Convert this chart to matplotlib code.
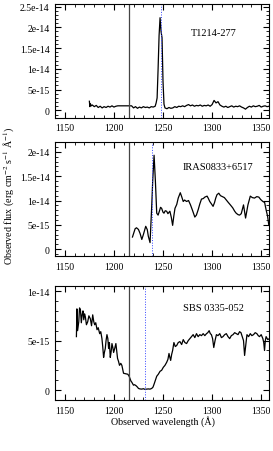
import numpy as np
import matplotlib
matplotlib.use("Agg")
import matplotlib.pyplot as plt
from matplotlib.ticker import MultipleLocator, FuncFormatter

plt.rcParams.update({
    "font.family": ["Liberation Serif", "DejaVu Serif"],
    "font.size": 7,
    "mathtext.fontset": "stix",
})

# Lyman alpha rest wavelength and redshifted positions (Angstrom)
lya_rest = 1215.67
lya_obs = [1248.0, 1239.2, 1231.8]
names = ["T1214-277", "IRAS0833+6517", "SBS 0335-052"]

# spectra, flux in units of 1e-15 erg cm-2 s-1 A-1
wl_t1214 = [1175, 1175.5, 1176, 1177, 1178, 1180, 1182, 1184, 1186, 1188, 1190, 1192,
            1194, 1196, 1198, 1200, 1202, 1204, 1206, 1208, 1210, 1212, 1214, 1216,
            1218, 1220, 1222, 1224, 1226, 1228, 1230, 1232, 1234, 1236, 1238, 1240,
            1242, 1243, 1244, 1245, 1246, 1247, 1248, 1249, 1250, 1251, 1252, 1254,
            1256, 1258, 1260, 1262, 1264, 1266, 1268, 1270, 1272, 1274, 1276, 1278,
            1280, 1282, 1284, 1286, 1288, 1290, 1292, 1294, 1296, 1298, 1300, 1302,
            1304, 1306, 1308, 1310, 1312, 1314, 1316, 1318, 1320, 1322, 1324, 1326,
            1328, 1330, 1332, 1334, 1336, 1338, 1340, 1342, 1344, 1346, 1348, 1350,
            1352, 1354, 1356, 1358, 1360]
fl_t1214 = [2.2, 0.9, 1.6, 1.1, 1.3, 0.9, 1.2, 0.7, 1.0, 0.6, 0.9, 0.7,
            1.0, 0.8, 1.1, 0.8, 1.0, 1.1, 1.1, 1.1, 1.1, 1.1, 1.1, 1.1,
            1.1, 0.6, 0.9, 0.5, 0.8, 0.6, 0.9, 0.7, 0.8, 0.6, 0.9, 0.8,
            1.0, 1.8, 3.0, 10.0, 18.0, 22.3, 19.0, 17.5, 7.0, 1.5, 0.6, 0.4,
            0.7, 0.5, 0.6, 0.9, 0.7, 1.0, 0.9, 1.1, 0.9, 1.2, 1.4, 1.1,
            1.3, 1.0, 1.2, 1.1, 1.3, 1.0, 1.2, 1.1, 1.3, 1.0, 1.4, 2.4,
            1.8, 2.1, 1.3, 1.0, 0.8, 1.0, 0.7, 0.9, 1.1, 0.8, 1.0, 0.9,
            1.1, 0.8, 0.6, 0.3, 0.7, 1.0, 0.8, 1.1, 0.9, 1.0, 1.2, 0.8,
            1.0, 1.1, 0.9, 1.0, 1.0]

wl_iras = [1218.9, 1220, 1221.6, 1223, 1225, 1226.7, 1228.4, 1230, 1232.4, 1234,
           1235, 1236.8, 1238.5, 1239.5, 1240.9, 1242.2, 1243.6, 1245, 1246.3, 1247.5,
           1248.6, 1250, 1251, 1252.3, 1253.7, 1255, 1257, 1258.5, 1259.8, 1261,
           1262.2, 1264, 1265.5, 1267.6, 1269, 1270.6, 1272, 1274, 1276, 1278,
           1280, 1282.4, 1284, 1285.8, 1287.5, 1289.2, 1291, 1292.6, 1294.9, 1296,
           1297.6, 1299, 1301, 1302.5, 1303.7, 1305, 1306.8, 1308.5, 1310.5, 1312.5,
           1314.5, 1316.5, 1318.6, 1321, 1323, 1324.5, 1326.4, 1328, 1329.7, 1332,
           1334.1, 1336.5, 1338.9, 1341, 1343.2, 1345.5, 1347.6, 1349.5, 1351.7, 1353.5,
           1355, 1356.5, 1357.8, 1359]
fl_iras = [2.5, 3.2, 4.2, 4.4, 4.05, 3.2, 2.0, 3.0, 4.7, 4.0,
           2.7, 1.35, 8.8, 14.0, 19.3, 14.2, 7.4, 7.0, 7.8, 8.6,
           8.4, 7.6, 7.4, 7.9, 7.8, 7.3, 7.8, 6.5, 4.9, 6.8,
           8.4, 9.2, 10.5, 11.6, 10.8, 9.8, 10.1, 9.8, 10.0, 9.1,
           8.0, 6.6, 7.0, 8.1, 9.3, 10.3, 10.4, 10.7, 10.9, 10.5,
           9.8, 9.4, 8.8, 9.6, 10.5, 11.2, 11.5, 11.0, 10.8, 10.6,
           10.1, 9.6, 9.1, 8.5, 7.8, 7.4, 7.1, 7.0, 7.3, 9.1,
           6.4, 9.1, 10.9, 10.6, 10.5, 10.8, 10.7, 10.2, 9.8, 9.6,
           8.1, 6.8, 4.9, 5.4]

wl_sbs = [1161.8, 1162.3, 1163, 1164.2, 1165, 1165.9, 1166.8, 1167.6, 1168.5, 1169.3,
          1170.1, 1170.9, 1172, 1173.3, 1174.5, 1176, 1177.2, 1178.4, 1179.5, 1180.4,
          1181.5, 1182.8, 1184, 1185.5, 1186.6, 1187.8, 1188.6, 1189.5, 1190.3, 1191.2,
          1192, 1192.9, 1193.8, 1194.6, 1195.4, 1196.3, 1197.2, 1198, 1198.9, 1199.7,
          1200.8, 1202, 1202.9, 1203.7, 1204.7, 1205.7, 1207, 1208.1, 1209, 1209.8,
          1212, 1214.2, 1215.5, 1216.6, 1217.4, 1218.2, 1219, 1219.9, 1221, 1222.6,
          1224, 1225, 1226.5, 1228.4, 1230, 1231.5, 1233.4, 1235, 1236.8, 1238.5,
          1239.8, 1240.9, 1242.2, 1243.6, 1245.2, 1247, 1248.6, 1250.3, 1252, 1253.7,
          1255, 1256.1, 1257, 1257.8, 1258.8, 1259.8, 1261.1, 1262.5, 1263.9, 1265.5,
          1267.2, 1269, 1270.6, 1272.3, 1274, 1275.7, 1277.4, 1279, 1280.7, 1282.4,
          1284.1, 1285.8, 1287.5, 1289.2, 1290.9, 1292.6, 1294.3, 1295.6, 1297, 1298.2,
          1299.3, 1300.5, 1301.7, 1303, 1304.4, 1306, 1307.8, 1309.5, 1311.1, 1312.8,
          1314.5, 1316.2, 1317.9, 1319.6, 1321.3, 1323, 1324.7, 1326.4, 1328, 1329.4,
          1330.7, 1332, 1333.1, 1334.3, 1335.5, 1337.2, 1338.9, 1340.5, 1342.2, 1343.9,
          1345.6, 1347, 1348.3, 1350, 1351.7, 1352.6, 1353.4, 1354.2, 1355, 1356.7,
          1358.4]
fl_sbs = [5.4, 8.2, 6.0, 6.9, 8.3, 8.1, 6.8, 7.6, 8.0, 7.1,
          7.7, 7.4, 6.6, 6.9, 7.5, 7.2, 6.5, 7.6, 6.9, 6.6,
          6.8, 6.1, 6.3, 5.7, 5.9, 5.2, 4.4, 3.3, 3.8, 4.2,
          5.0, 5.6, 5.2, 4.2, 4.8, 3.3, 3.9, 4.7, 4.3, 3.8,
          4.2, 4.7, 3.9, 3.2, 2.9, 2.5, 2.7, 2.5, 2.1, 1.7,
          1.65, 1.6, 1.4, 1.1, 0.9, 0.8, 0.65, 0.5, 0.55, 0.44,
          0.3, 0.17, 0.12, 0.1, 0.14, 0.08, 0.1, 0.12, 0.1, 0.17,
          0.3, 0.6, 1.0, 1.4, 1.6, 1.9, 2.0, 2.3, 2.5, 2.8,
          3.1, 3.7, 3.3, 3.0, 3.6, 4.0, 4.8, 4.4, 4.5, 4.8,
          4.9, 4.6, 5.1, 4.8, 4.7, 5.0, 5.2, 5.4, 5.6, 5.3,
          5.7, 5.4, 5.6, 5.5, 5.7, 5.5, 5.7, 5.8, 6.0, 5.7,
          5.6, 5.2, 4.3, 5.0, 5.6, 5.5, 5.7, 5.3, 5.4, 5.6,
          5.7, 5.4, 5.2, 5.5, 5.6, 5.8, 5.7, 5.6, 5.9, 5.8,
          5.4, 5.0, 3.5, 4.6, 5.6, 5.4, 5.7, 5.5, 5.6, 5.8,
          5.7, 5.5, 5.4, 5.6, 5.2, 4.8, 4.0, 5.0, 5.4, 5.1,
          5.2]

spectra = [(wl_t1214, fl_t1214), (wl_iras, fl_iras), (wl_sbs, fl_sbs)]
ylims = [(-1.8e-15, 2.55e-14), (-1.4e-15, 2.2e-14), (-1.0e-15, 1.05e-14)]
label_pos = [(0.74, 0.755), (0.762, 0.79), (0.738, 0.816)]

fig = plt.figure(figsize=(2.73, 4.52), dpi=100)
boxes = [[0.2015, 0.737, 0.784, 0.251],
         [0.2015, 0.4314, 0.784, 0.252],
         [0.2015, 0.1128, 0.784, 0.252]]

fmt = FuncFormatter(lambda v, p: "%g" % v)

for i in range(3):
    ax = fig.add_axes(boxes[i])
    wl, fl = spectra[i]
    ax.plot(wl, np.array(fl) * 1e-15, color="black", lw=0.9)
    ax.axvline(lya_rest, color="#444444", lw=0.9)
    ax.axvline(lya_obs[i], color="#3344ff", lw=0.7, ls=":")
    ax.set_xlim(1140, 1358)
    ax.set_ylim(*ylims[i])
    ax.xaxis.set_major_locator(MultipleLocator(50))
    ax.xaxis.set_minor_locator(MultipleLocator(10))
    ax.yaxis.set_major_locator(MultipleLocator(5e-15))
    ax.yaxis.set_minor_locator(MultipleLocator(1e-15))
    ax.yaxis.set_major_formatter(fmt)
    ax.tick_params(which="both", direction="in", top=True, right=True, labelsize=7)
    ax.tick_params(axis="y", pad=4)
    ax.tick_params(axis="x", pad=4)
    ax.tick_params(which="major", length=4)
    ax.tick_params(which="minor", length=2.2)
    ax.text(label_pos[i][0], label_pos[i][1], names[i], transform=ax.transAxes,
            ha="center", va="center", fontsize=7.5)

fig.text(163 / 273, 1 - 422 / 452, "Observed wavelength (Å)", ha="center", va="center", fontsize=7.2)
fig.text(9 / 273, 1 - 196 / 452, r"Observed flux (erg cm$^{-2}$ s$^{-1}$ Å$^{-1}$)",
         ha="center", va="center", rotation=90, fontsize=7.2)

fig.savefig("out.png", dpi=100)
